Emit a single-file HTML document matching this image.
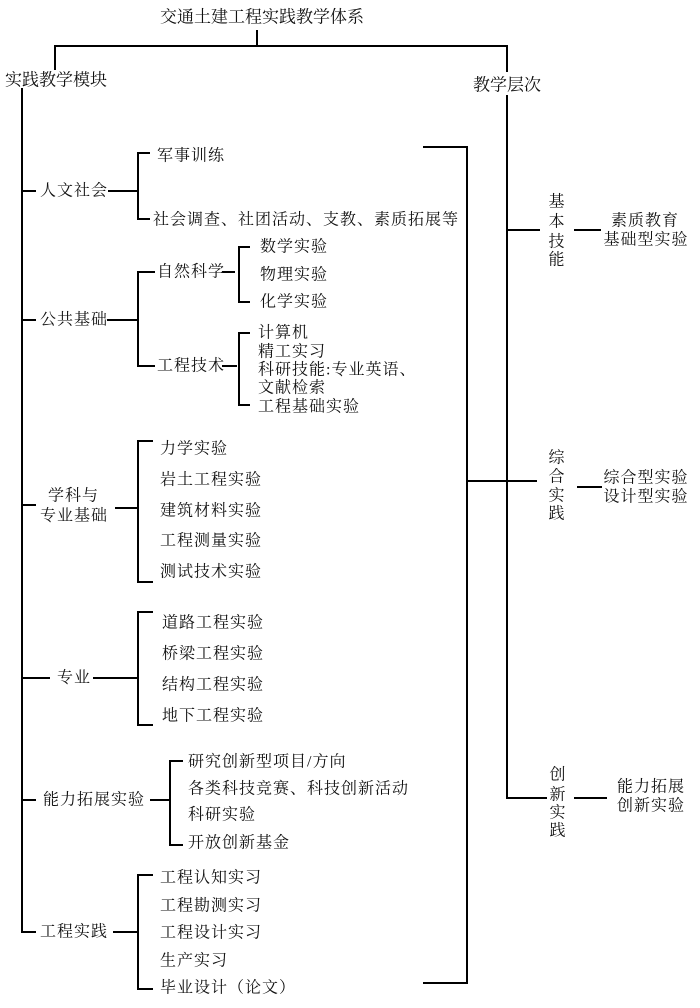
<!DOCTYPE html>
<html><head><meta charset="utf-8"><style>
html,body{margin:0;padding:0;background:#fff;}
svg{display:block;}
text{font-family:"Liberation Serif","Noto Serif CJK SC","Noto Sans CJK SC",serif;font-size:16px;fill:#111;dominant-baseline:central;letter-spacing:1px;}
</style></head><body>
<svg width="700" height="1008" viewBox="0 0 700 1008" xmlns="http://www.w3.org/2000/svg">
<g stroke="#000" stroke-width="2" fill="none">
<path d="M257 30V46M55 70V46H507V72"/>
<path d="M22 88V932H36"/>
<path d="M507 95V798H547"/>
<path d="M423 147H467V983H423"/>
<path d="M467 481H537"/>
<path d="M507 230H540"/>
<path d="M574 230H601"/>
<path d="M577 487H602"/>
<path d="M574 798H607"/>
<path d="M22 191H36M108 191H138M150 153H138V219H150"/>
<path d="M22 320H36M107 320H138M155 272H138V366H155"/>
<path d="M222 272H235M250 247H239V302H250"/>
<path d="M222 366H237M250 333H239V405H250"/>
<path d="M22 505H36M115 508H138M153 441H138V582H153"/>
<path d="M22 678H50M93 678H138M153 612H138V725H153"/>
<path d="M22 800H36M150 800H170M183 761H170V845H183"/>
<path d="M113 932H138M153 875H138V989H153"/>
</g>
<text x="160" y="17" style="font-size:17px;letter-spacing:0">交通土建工程实践教学体系</text>
<text x="5" y="80" style="font-size:17px;letter-spacing:0">实践教学模块</text>
<text x="473" y="85" style="font-size:17px;letter-spacing:0">教学层次</text>

<text x="40" y="191">人文社会</text>
<text x="157" y="156">军事训练</text>
<text x="153" y="220">社会调查、社团活动、支教、素质拓展等</text>

<text x="40" y="320">公共基础</text>
<text x="157" y="272">自然科学</text>
<text x="260" y="247">数学实验</text>
<text x="260" y="275">物理实验</text>
<text x="260" y="302">化学实验</text>
<text x="157" y="366">工程技术</text>
<text x="258" y="333">计算机</text>
<text x="258" y="352">精工实习</text>
<text x="258" y="370">科研技能:专业英语、</text>
<text x="258" y="388">文献检索</text>
<text x="258" y="407">工程基础实验</text>

<text x="48" y="496">学科与</text>
<text x="40" y="516">专业基础</text>
<text x="160" y="449">力学实验</text>
<text x="160" y="480">岩土工程实验</text>
<text x="160" y="511">建筑材料实验</text>
<text x="160" y="541">工程测量实验</text>
<text x="160" y="572">测试技术实验</text>

<text x="57" y="678">专业</text>
<text x="162" y="623">道路工程实验</text>
<text x="162" y="654">桥梁工程实验</text>
<text x="162" y="685">结构工程实验</text>
<text x="162" y="716">地下工程实验</text>

<text x="43" y="800">能力拓展实验</text>
<text x="188" y="762">研究创新型项目/方向</text>
<text x="188" y="789">各类科技竞赛、科技创新活动</text>
<text x="188" y="815">科研实验</text>
<text x="188" y="843">开放创新基金</text>

<text x="40" y="932">工程实践</text>
<text x="160" y="878">工程认知实习</text>
<text x="160" y="906">工程勘测实习</text>
<text x="160" y="933">工程设计实习</text>
<text x="160" y="961">生产实习</text>
<text x="160" y="988">毕业设计（论文）</text>

<g text-anchor="middle">
<text x="557" y="202">基</text>
<text x="557" y="222">本</text>
<text x="557" y="242">技</text>
<text x="557" y="260">能</text>
<text x="645" y="221">素质教育</text>
<text x="646" y="240">基础型实验</text>
<text x="557" y="458">综</text>
<text x="557" y="477">合</text>
<text x="557" y="496">实</text>
<text x="557" y="514">践</text>
<text x="646" y="478">综合型实验</text>
<text x="646" y="497">设计型实验</text>
<text x="558" y="775">创</text>
<text x="558" y="795">新</text>
<text x="558" y="813">实</text>
<text x="558" y="831">践</text>
<text x="651" y="787">能力拓展</text>
<text x="651" y="806">创新实验</text>
</g>
</svg>
</body></html>
